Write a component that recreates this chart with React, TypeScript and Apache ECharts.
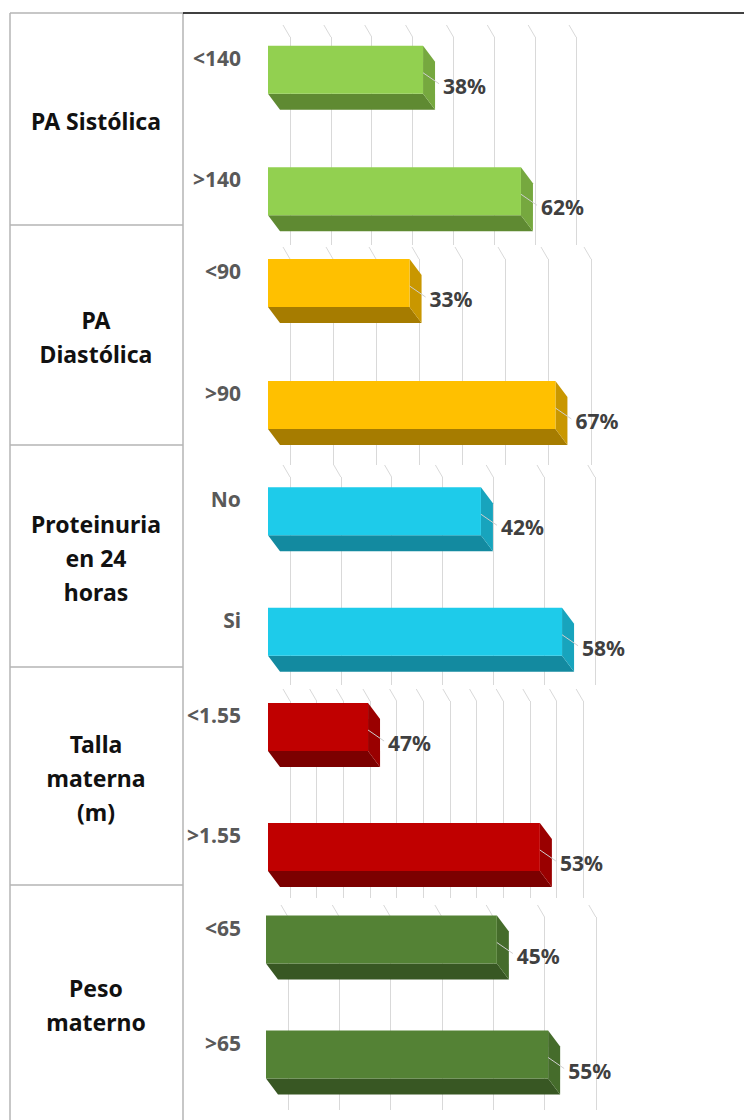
import React, { useEffect, useRef } from 'react';
import * as echarts from 'echarts';

// ---------- data ----------
const groupNames = ['PA Sistólica', 'PA\nDiastólica', 'Proteinuria\nen 24\nhoras', 'Talla\nmaterna\n(m)', 'Peso\nmaterno'];

const sistolicaCats = ['<140', '>140'];
const sistolicaValues = [38, 62];
const sistolicaLabels = ['38%', '62%'];
const sistolicaTicks = [0, 10, 20, 30, 40, 50, 60, 70];

const diastolicaCats = ['<90', '>90'];
const diastolicaValues = [33, 67];
const diastolicaLabels = ['33%', '67%'];
const diastolicaTicks = [0, 10, 20, 30, 40, 50, 60, 70];

const proteinuriaCats = ['No', 'Si'];
const proteinuriaValues = [42, 58];
const proteinuriaLabels = ['42%', '58%'];
const proteinuriaTicks = [0, 10, 20, 30, 40, 50, 60];

const tallaCats = ['<1.55', '>1.55'];
const tallaValues = [19.5, 53]; // bar lengths as drawn in the source
const tallaLabels = ['47%', '53%'];
const tallaTicks = [0, 5, 10, 15, 20, 25, 30, 35, 40, 45, 50, 55];

const pesoCats = ['<65', '>65'];
const pesoValues = [45, 55];
const pesoLabels = ['45%', '55%'];
const pesoTicks = [0, 10, 20, 30, 40, 50, 60];

// ---------- styling / layout ----------
const FONT = '"Noto Sans", "Open Sans", sans-serif';

const groups = [
  { cats: sistolicaCats, values: sistolicaValues, labels: sistolicaLabels, ticks: sistolicaTicks,
    colors: ['#92d050', '#76a83f', '#5f8a32'] },
  { cats: diastolicaCats, values: diastolicaValues, labels: diastolicaLabels, ticks: diastolicaTicks,
    colors: ['#ffc000', '#c99700', '#a67c00'] },
  { cats: proteinuriaCats, values: proteinuriaValues, labels: proteinuriaLabels, ticks: proteinuriaTicks,
    colors: ['#1ecbea', '#18a4bd', '#138aa0'] },
  { cats: tallaCats, values: tallaValues, labels: tallaLabels, ticks: tallaTicks,
    colors: ['#c00000', '#9a0000', '#7c0000'] },
  { cats: pesoCats, values: pesoValues, labels: pesoLabels, ticks: pesoTicks,
    colors: ['#548235', '#456c2b', '#385723'] },
];

const layout = [
  { barLeft: 268, barScale: 4.08, top: 17, height: 243, gridTop: 37, gridBottom: 245, gridScale: 4.086 },
  { barLeft: 268, barScale: 4.29, top: 230, height: 244, gridTop: 259, gridBottom: 465, gridScale: 4.3 },
  { barLeft: 268, barScale: 5.07, top: 459, height: 241, gridTop: 477, gridBottom: 685, gridScale: 5.08 },
  { barLeft: 268, barScale: 5.13, top: 675, height: 240, gridTop: 701, gridBottom: 898, gridScale: 5.33 },
  { barLeft: 266, barScale: 5.13, top: 890, height: 234, gridTop: 917, gridBottom: 1110, gridScale: 5.13 },
];

const rowLines = [13, 225, 445, 667, 885];

export default function App() {
  const ref = useRef<HTMLDivElement>(null);

  useEffect(() => {
    if (!ref.current) return;
    const chart = echarts.init(ref.current, null, { renderer: 'svg' });

    const grid: any[] = [];
    const xAxis: any[] = [];
    const yAxis: any[] = [];
    const series: any[] = [];

    groups.forEach((g, gi) => {
      const L = layout[gi];
      const max = g.ticks[g.ticks.length - 1];
      const interval = g.ticks[1] - g.ticks[0];

      // gridline grid (back wall)
      const gIdx = grid.length;
      grid.push({
        left: L.barLeft + 22, top: L.gridTop,
        width: max * L.gridScale, height: L.gridBottom - L.gridTop,
      });
      xAxis.push({
        type: 'value', gridIndex: gIdx, min: 0, max, interval,
        axisLabel: { show: false }, axisLine: { show: false }, axisTick: { show: false },
        splitLine: { show: true, lineStyle: { color: '#d9d9d9', width: 1 } },
      });
      yAxis.push({ type: 'value', gridIndex: gIdx, min: 0, max: 1, show: false, splitLine: { show: false } });
      series.push({
        type: 'custom', xAxisIndex: gIdx, yAxisIndex: gIdx, silent: true,
        data: g.ticks.map((t) => [t, 1]),
        renderItem: (params: any, api: any) => {
          const p = api.coord([api.value(0), 1]);
          return {
            type: 'line',
            shape: { x1: p[0] - 7, y1: p[1] - 12, x2: p[0], y2: p[1] },
            style: { stroke: '#d9d9d9', lineWidth: 1 },
          };
        },
      });

      // bar grid
      const bIdx = grid.length;
      grid.push({ left: L.barLeft, top: L.top, width: max * L.barScale, height: L.height });
      xAxis.push({
        type: 'value', gridIndex: bIdx, min: 0, max, show: false, splitLine: { show: false },
      });
      yAxis.push({
        type: 'category', gridIndex: bIdx, data: g.cats, inverse: true,
        axisLine: { show: false }, axisTick: { show: false }, splitLine: { show: false },
        axisLabel: {
          color: '#595959', fontFamily: FONT, fontWeight: 'bold', fontSize: 21,
          margin: gi === 4 ? 25 : 27, verticalAlign: 'bottom', lineHeight: 40,
        },
      });
      const [front, side, bottom] = g.colors;
      const labels = g.labels;
      series.push({
        type: 'custom', xAxisIndex: bIdx, yAxisIndex: bIdx, silent: true,
        data: g.values.map((v, i) => [v, i]),
        renderItem: (params: any, api: any) => {
          const v = api.value(0);
          const ci = api.value(1);
          const p0 = api.coord([0, ci]);
          const p1 = api.coord([v, ci]);
          const x0 = p0[0], x1 = p1[0], yc = p0[1];
          const ft = yc - 32, fb = yc + 16, bb = yc + 32;
          return {
            type: 'group',
            children: [
              { type: 'polygon', shape: { points: [[x0, fb], [x1, fb], [x1 + 12, bb], [x0 + 12, bb]] }, style: { fill: bottom } },
              { type: 'polygon', shape: { points: [[x1, ft], [x1 + 12, ft + 16], [x1 + 12, bb], [x1, fb]] }, style: { fill: side } },
              { type: 'rect', shape: { x: x0, y: ft, width: x1 - x0, height: 48 }, style: { fill: front } },
              { type: 'line', shape: { x1: x1, y1: yc - 5, x2: x1 + 16, y2: yc + 6 }, style: { stroke: '#cfcfcf', lineWidth: 1 } },
              {
                type: 'text',
                style: {
                  text: labels[params.dataIndex], x: x1 + 20, y: yc + 8,
                  textAlign: 'left', textVerticalAlign: 'middle', verticalAlign: 'middle',
                  fill: '#404040', font: `bold 21px ${FONT}`,
                },
              },
            ],
          };
        },
      });
    });

    // left table panel
    const graphic: any[] = [];
    graphic.push({ type: 'line', shape: { x1: 10, y1: 13, x2: 10, y2: 1125 }, style: { stroke: '#b4b4b4', lineWidth: 1.5 } });
    graphic.push({ type: 'line', shape: { x1: 183, y1: 13, x2: 183, y2: 1125 }, style: { stroke: '#b4b4b4', lineWidth: 1.5 } });
    rowLines.forEach((y) => {
      graphic.push({ type: 'line', shape: { x1: 10, y1: y, x2: 183, y2: y }, style: { stroke: '#b4b4b4', lineWidth: 1.5 } });
    });
    graphic.push({ type: 'line', shape: { x1: 183, y1: 13, x2: 744, y2: 13 }, style: { stroke: '#000', lineWidth: 1.5 } });
    const rowBounds = [...rowLines, 1120];
    groupNames.forEach((name, i) => {
      const yc = (rowBounds[i] + rowBounds[i + 1]) / 2 + 2;
      graphic.push({
        type: 'text', x: 96, y: yc,
        style: {
          text: name, textAlign: 'center', textVerticalAlign: 'middle', verticalAlign: 'middle',
          fill: '#111', font: `bold 23px ${FONT}`, lineHeight: 34,
        },
      });
    });

    chart.setOption({
      animation: false,
      backgroundColor: '#ffffff',
      grid, xAxis, yAxis, series, graphic,
    });

    return () => chart.dispose();
  }, []);

  return <div ref={ref} style={{ position: 'absolute', left: 0, top: 0, width: 744, height: 1120 }} />;
}
